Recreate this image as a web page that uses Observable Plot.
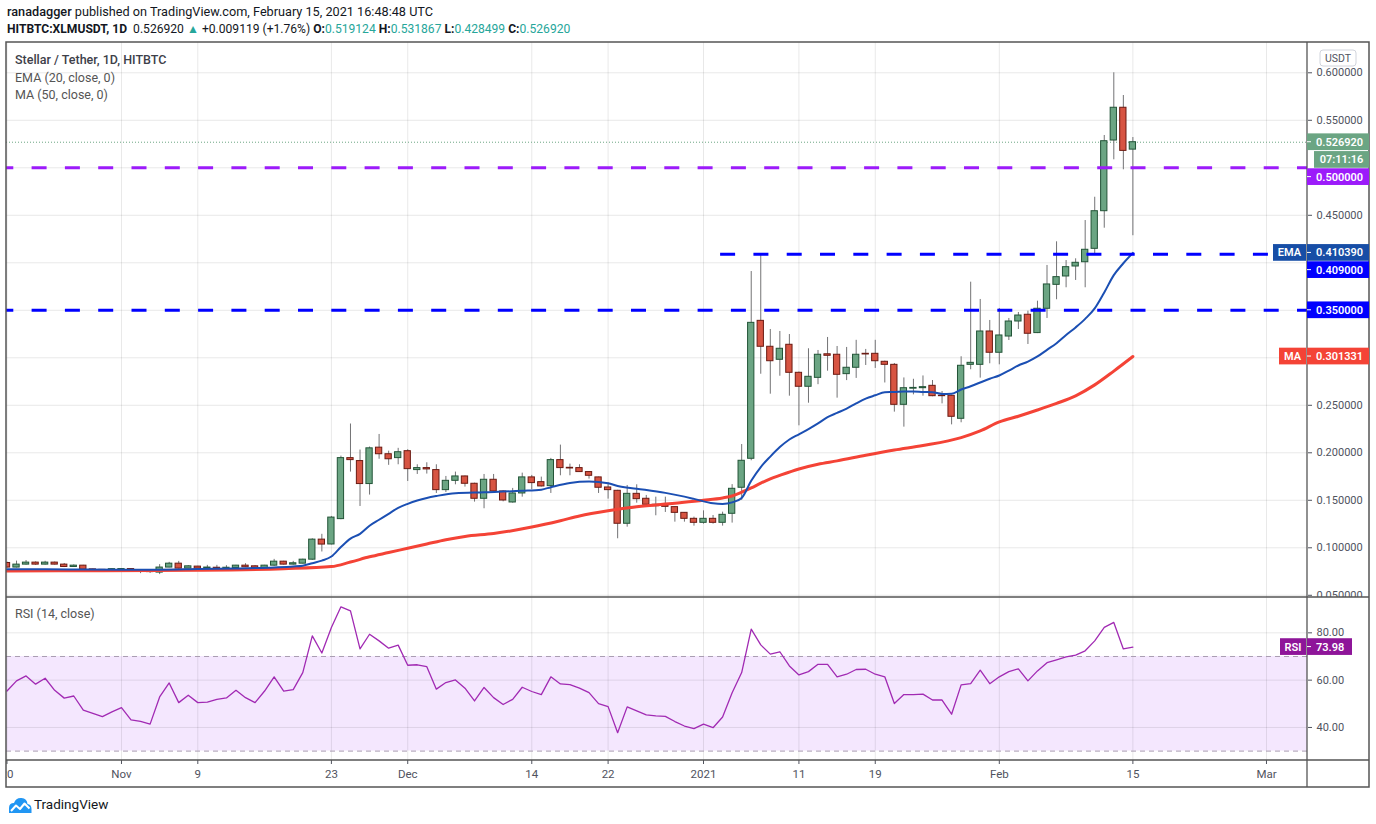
<!DOCTYPE html>
<html><head><meta charset="utf-8">
<script src="https://cdn.jsdelivr.net/npm/d3@7"></script>
<script src="https://cdn.jsdelivr.net/npm/@observablehq/plot@0.6"></script>
<style>
html,body{margin:0;padding:0;background:#fff;}
body{width:1376px;height:824px;position:relative;overflow:hidden;font-family:Roboto,"Noto Sans",sans-serif;color:#131722;}
.abs{position:absolute;white-space:nowrap;}
.v{color:#26a69a;}
</style></head><body>
<div id="root"></div>
<script>
// ---------- data ----------
const open = [
.0840,.0792,.0823,.0844,.0823,.0844,.0823,.0798,.0812,.0773,
.0768,.0765,.0770,.0776,.0757,.0750,.0739,.0792,.0833,.0781,
.0802,.0781,.0790,.0788,.0788,.0812,.0805,.0788,.0812,.0854,
.0823,.0833,.0875,.1086,.1035,.1302,.1944,.1913,.1671,.2054,
.1985,.1944,.2017,.1818,.1839,.1818,.1607,.1705,.1751,.1674,
.1516,.1716,.1593,.1477,.1572,.1741,.1691,.1649,.1923,.1842,
.1839,.1797,.1741,.1635,.1600,.1253,.1568,.1516,.1453,.1446,
.1428,.1368,.1305,.1263,.1305,.1263,.1358,.1632,.1937,.3389,
.3116,.2979,.3137,.2842,.2695,.2789,.3037,.3032,.2828,.2895,
.3042,.3042,.2958,.2926,.2505,.2675,.2680,.2705,.2601,.2600,
.2358,.2926,.2926,.3277,.3053,.3224,.3382,.3453,.3260,.3516,
.3768,.3856,.3961,.4006,.4147,.4543,.5287,.5632,.519124];
const close = [
.0792,.0823,.0844,.0823,.0844,.0823,.0798,.0812,.0770,.0765,
.0765,.0775,.0776,.0757,.0746,.0744,.0792,.0833,.0781,.0805,
.0781,.0792,.0788,.0790,.0812,.0795,.0788,.0812,.0854,.0823,
.0837,.0875,.1086,.1034,.1318,.1944,.1923,.1671,.2047,.1985,
.1932,.2006,.1828,.1839,.1825,.1607,.1705,.1751,.1674,.1516,
.1716,.1593,.1498,.1572,.1741,.1681,.1646,.1923,.1839,.1835,
.1797,.1758,.1632,.1607,.1253,.1568,.1512,.1453,.1438,.1431,
.1368,.1305,.1263,.1305,.1263,.1347,.1621,.1916,.3368,.3116,
.2964,.3095,.2842,.2695,.2800,.3032,.3021,.2821,.2895,.3032,
.3035,.2964,.2926,.2505,.2680,.2683,.2691,.2596,.2596,.2379,
.2916,.2947,.3277,.3053,.3235,.3382,.3445,.3253,.3516,.3772,
.3849,.3954,.4000,.4137,.4543,.5280,.5632,.5178,.52692];
const high = [
.0850,.0860,.0866,.0852,.0858,.0850,.0835,.0820,.0815,.0776,
.0770,.0780,.0780,.0779,.0760,.0752,.0823,.0847,.0857,.0812,
.0805,.0815,.0815,.0812,.0815,.0833,.0812,.0815,.0878,.0858,
.0857,.0880,.1095,.1142,.1330,.1965,.2303,.2029,.2061,.2193,
.2017,.2047,.2033,.1874,.1895,.1874,.1751,.1797,.1755,.1680,
.1772,.1772,.1600,.1625,.1786,.1762,.1744,.1941,.2081,.1881,
.1874,.1800,.1744,.1684,.1605,.1656,.1663,.1551,.1533,.1533,
.1432,.1370,.1323,.1389,.1340,.1375,.1665,.2087,.3908,.4077,
.3298,.3277,.3245,.2850,.3095,.3077,.3214,.3119,.3109,.3184,
.3088,.3184,.2965,.2940,.2788,.2774,.2809,.2761,.2645,.2605,
.3011,.3796,.3614,.3393,.3519,.3414,.3477,.3491,.3596,.3972,
.4221,.4024,.4042,.4445,.4690,.5340,.6000,.5761,.531867];
const low = [
.0785,.0788,.0818,.0815,.0818,.0818,.0792,.0795,.0762,.0760,
.0748,.0762,.0766,.0745,.0728,.0730,.0718,.0790,.0775,.0778,
.0778,.0780,.0782,.0784,.0786,.0792,.0785,.0786,.0805,.0818,
.0818,.0830,.0868,.0956,.1030,.1295,.1797,.1435,.1555,.1932,
.1868,.1874,.1698,.1772,.1776,.1572,.1582,.1663,.1639,.1481,
.1411,.1583,.1484,.1470,.1533,.1611,.1640,.1572,.1758,.1758,
.1793,.1723,.1572,.1512,.1095,.1217,.1470,.1424,.1337,.1372,
.1270,.1270,.1228,.1249,.1249,.1228,.1260,.1500,.1916,.2827,
.2617,.2806,.2596,.2284,.2522,.2717,.2859,.2575,.2760,.2783,
.2919,.2888,.2735,.2428,.2270,.2610,.2596,.2590,.2515,.2294,
.2316,.2874,.2786,.2937,.2926,.3182,.3298,.3140,.3255,.3414,
.3611,.3737,.3814,.3737,.4084,.4364,.5084,.4979,.428499];

const emaDay = [0,4,8,12,16,20,24,28,30,31,32,33,34,35,36,37,38,39,40,41,42,43,44,45,47,50,54,56,57,59,61,63,64,66,69,72,74,75,76,77,
78,79,80,81,82,83,84,85,86,87,88,89,90,91,92,93,94,95,96,97,98,99,100,101,102,103,104,105,106,107,108,109,110,111,112,113,114,115,116,117,118];
const emaValue = [.0775,.0774,.0772,.0770,.0770,.0776,.0782,.0793,.0803,.0812,
.0838,.0865,.0908,.1008,.1097,.1147,.1232,.1295,.1358,.1420,.1463,.1498,.1525,.1545,
.1575,.1585,.1600,.1612,.1638,.1683,.1697,.1680,.1650,.1622,
.1578,.1515,.1468,.1462,.1478,.1525,
.1705,.1850,.1960,.2060,.2140,.2195,.2250,.2310,.2375,.2420,
.2465,.2520,.2570,.2605,.2638,.2640,.2645,.2645,.2640,.2638,
.2620,.2622,.2666,.2700,.2740,.2780,.2814,.2865,.2919,.2960,
.3014,.3084,.3154,.3240,.3320,.3410,.3520,.3688,.3870,.3995,.41039];

const maDay = [0,10,20,29,34,36,38,40,42,44,46,48,51,55,58,60,63,66,70,73,75,76,77,78,79,80,81,83,85,87,90,93,96,100,102,104,106,108,110,112,114,116,118];
const maValue = [.0756,.0759,.0764,.0780,.0802,.0850,.0905,.0950,.0995,.1040,
.1085,.1120,.1150,.1218,.1285,.1335,.1390,.1433,.1470,.1500,
.1525,.1545,.1585,.1630,.1680,.1725,.1762,.1830,.1880,.1915,
.1975,.2030,.2077,.2160,.2230,.2325,.2385,.2450,.2520,.2600,
.2715,.2860,.301331];

const rsi = [55.4,59.7,61.8,58.3,60.8,55.7,52.4,53.3,47.3,46.0,
44.6,46.6,48.4,43.2,42.6,41.4,52.9,58.8,50.5,53.6,
50.5,50.7,51.9,52.5,55.7,52.6,50.5,55.4,61.4,55.4,
56.0,63.2,78.7,71.5,82.3,91.0,89.3,73.2,79.4,76.6,
73.5,74.8,66.3,66.5,65.7,56.2,59.0,60.1,56.6,51.2,
56.9,52.6,49.7,51.9,57.0,55.2,53.9,61.4,58.4,58.1,
56.6,54.7,50.1,48.8,37.8,48.7,47.0,45.3,44.9,44.7,
42.5,40.6,39.5,41.4,39.9,44.4,54.7,63.2,81.6,74.9,
71.0,72.0,66.0,62.2,63.6,66.7,66.7,61.4,62.5,64.5,
64.6,62.5,61.4,50.1,53.9,53.9,54.1,51.6,51.6,45.6,
58.0,58.5,64.2,58.5,61.4,63.6,64.8,59.7,63.9,67.4,
68.6,69.8,70.6,72.4,76.6,82.3,84.4,73.2,73.98];

const tickDates = ["2020-10-20","2020-11-01","2020-11-09","2020-11-23","2020-12-01","2020-12-14","2020-12-22","2021-01-01","2021-01-11","2021-01-19","2021-02-01","2021-02-15","2021-03-01"];
const tickLabels = ["20","Nov","9","23","Dec","14","22","2021","11","19","Feb","15","Mar"];
const priceTicks = [0.05,0.1,0.15,0.2,0.25,0.3,0.35,0.4,0.45,0.5,0.55,0.6];
const priceTickLabels = [0.05,0.1,0.15,0.2,0.25,0.45,0.55,0.6]; // the others sit under the value boxes
const rsiTicks = [40,60,80];
const rsiBand = [30,70];
const purpleLevel = 0.5;
const blueLevels = [0.35];
const blueShortLevel = 0.409;
const blueShortStart = "2021-01-02T19:00:00Z";

// ---------- derived tables ----------
const dayDate = i => new Date(Date.UTC(2020, 9, 20 + i));
const candles = open.map((o, i) => ({date: dayDate(i), o, h: high[i], l: low[i], c: close[i], up: close[i] >= o}));
const emaData = emaDay.map((d, i) => ({date: dayDate(d), v: emaValue[i]}));
const maData = maDay.map((d, i) => ({date: dayDate(d), v: maValue[i]}));
const rsiData = rsi.map((v, i) => ({date: dayDate(i), v}));
const tickD = tickDates.map(s => new Date(s + "T00:00:00Z"));
const labelMap = new Map(tickD.map((d, i) => [+d, tickLabels[i]]));
const lastClose = close[close.length - 1];
const emaLast = emaValue[emaValue.length - 1];
const maLast = maValue[maValue.length - 1];
const rsiLast = rsi[rsi.length - 1];

// ---------- layout ----------
const FL = 6, FT = 42, FR = 1369, AX = 1307, SPLIT = 597, TTOP = 760, FB = 787;
const W = FR - FL, MR = FR - AX;
const xDomain = [new Date(Date.UTC(2020, 9, 19, 22, 48)), new Date(Date.UTC(2021, 2, 5, 7, 12))];
const half = 0.33 * 864e5;
const UPF = "#6ba583", UPS = "#225437", DNF = "#d75442", DNS = "#6b1a12";
const dash = {strokeWidth: 3, strokeDasharray: "15,18.3", strokeDashoffset: 7.7};

const root = document.getElementById("root");
function place(el, left, top) {
  const d = document.createElement("div");
  d.className = "abs"; d.style.left = left + "px"; d.style.top = top + "px";
  d.style.overflow = "hidden";
  d.appendChild(el); root.appendChild(d); return d;
}
const baseStyle = {fontFamily: "Roboto, sans-serif", fontSize: "11px", color: "#50535e", background: "white"};

const mainPlot = Plot.plot({
  width: W, height: SPLIT - FT, marginLeft: 0, marginRight: MR, marginTop: 0, marginBottom: 0,
  style: baseStyle,
  x: {type: "utc", domain: xDomain, axis: null},
  y: {domain: [0.04768, 0.63189], axis: null},
  marks: [
    Plot.ruleX(tickD, {stroke: "#000", strokeOpacity: 0.09}),
    Plot.ruleY(priceTicks, {stroke: "#000", strokeOpacity: 0.09}),
    Plot.axisY({anchor: "right", ticks: priceTickLabels, tickFormat: d => d.toFixed(6), tickSize: 4, tickPadding: 5, fontSize: 11, label: null}),
    Plot.ruleY([lastClose], {stroke: UPF, strokeDasharray: "1,2"}),
    Plot.ruleX(candles, {x: "date", y1: "l", y2: "h", stroke: "#737375"}),
    Plot.rect(candles, {filter: d => d.up, x1: d => new Date(+d.date - half), x2: d => new Date(+d.date + half),
      y1: d => Math.min(d.o, d.c), y2: d => Math.max(d.o, d.c), fill: UPF, stroke: UPS, strokeWidth: 1}),
    Plot.rect(candles, {filter: d => !d.up, x1: d => new Date(+d.date - half), x2: d => new Date(+d.date + half),
      y1: d => Math.min(d.o, d.c), y2: d => Math.max(d.o, d.c), fill: DNF, stroke: DNS, strokeWidth: 1}),
    Plot.line(maData, {x: "date", y: "v", stroke: "#f44336", strokeWidth: 3, curve: "monotone-x"}),
    Plot.line(emaData, {x: "date", y: "v", stroke: "#1b4fb3", strokeWidth: 2, curve: "monotone-x"}),
    Plot.ruleY([purpleLevel], {stroke: "#9c1bfa", ...dash}),
    Plot.ruleY(blueLevels, {stroke: "#0000ff", ...dash}),
    Plot.ruleY([blueShortLevel], {x1: () => new Date(blueShortStart), x2: () => xDomain[1], stroke: "#0000ff", strokeWidth: 3, strokeDasharray: "15,18.3"})
  ]
});
place(mainPlot, FL, FT);

const rsiPlot = Plot.plot({
  width: W, height: FB - SPLIT, marginLeft: 0, marginRight: MR, marginTop: 0, marginBottom: FB - TTOP,
  style: baseStyle,
  x: {type: "utc", domain: xDomain, axis: null},
  y: {domain: [26.03, 94.94], axis: null},
  marks: [
    Plot.rect([rsiBand], {y1: d => d[0], y2: d => d[1], fill: "#f4e7fe"}),
    Plot.ruleX(tickD, {stroke: "#000", strokeOpacity: 0.09}),
    Plot.ruleY(rsiTicks, {stroke: "#000", strokeOpacity: 0.09}),
    Plot.ruleY(rsiBand, {stroke: "#a99db2", strokeDasharray: "5,4"}),
    Plot.line(rsiData, {x: "date", y: "v", stroke: "#a12ab3", strokeWidth: 1.3}),
    Plot.axisY({anchor: "right", ticks: rsiTicks, tickFormat: d => d.toFixed(2), tickSize: 4, tickPadding: 5, fontSize: 11, label: null}),
    Plot.axisX({ticks: tickD, tickFormat: d => labelMap.get(+d), tickSize: 4, tickPadding: 5, fontSize: 11.5, label: null})
  ]
});
place(rsiPlot, FL, SPLIT);

// ---------- texts ----------
function html(left, top, s, style) {
  const d = document.createElement("div");
  d.className = "abs"; d.style.left = left + "px"; d.style.top = top + "px";
  d.style.cssText += style || ""; d.innerHTML = s; root.appendChild(d); return d;
}
html(7, 4, '<span style="font-weight:500">ranadagger</span> published on TradingView.com, February 15, 2021 16:48:48 UTC', "font-size:12.7px;");
html(7, 22, '<b>HITBTC:XLMUSDT, 1D</b>&nbsp; 0.526920 <span class="v">▲</span> +0.009119 (+1.76%) <b>O:</b><span class="v">0.519124</span> <b>H:</b><span class="v">0.531867</span> <b>L:</b><span class="v">0.428499</span> <b>C:</b><span class="v">0.526920</span>', "font-size:12.1px;");
html(15, 52, "Stellar / Tether, 1D, HITBTC", "font-size:12.5px;color:#3d4049;font-weight:500;");
html(15, 70, "EMA (20, close, 0)", "font-size:12.5px;color:#555;");
html(15, 87, "MA (50, close, 0)", "font-size:12.5px;color:#555;");
html(15, 606, "RSI (14, close)", "font-size:12.5px;color:#555;");
html(8, 796, '<svg width="24" height="18" viewBox="0 0 24 18"><path d="M1 17 L1 12 Q1 7 6 7 Q8 1.5 13.5 2 Q19 2.5 19.5 8 Q23.5 8.5 23.5 13 L23.5 17 Z" fill="#2196f3"/><polyline points="3,15 8,9.5 12,13 16.5,7.5 21.5,12.5" stroke="#fff" stroke-width="2" fill="none" stroke-linejoin="round"/></svg>', "");
html(34, 796, "TradingView", "font-size:13.5px;color:#131722;");

// ---------- overlay: frame and price labels ----------
const ov = d3.select(root).append("svg").attr("width", 1376).attr("height", 824)
  .style("position", "absolute").style("left", "0px").style("top", "0px").style("pointer-events", "none");
const frameC = "#555";
ov.append("rect").attr("x", FL).attr("y", FT).attr("width", FR - FL).attr("height", FB - FT).attr("fill", "none").attr("stroke", frameC).attr("stroke-width", 1.5);
[[FL, SPLIT, FR, SPLIT], [FL, TTOP, FR, TTOP], [AX, FT, AX, FB]].forEach(([x1, y1, x2, y2]) =>
  ov.append("line").attr("x1", x1).attr("y1", y1).attr("x2", x2).attr("y2", y2).attr("stroke", frameC).attr("stroke-width", 1.3));

// USDT badge
ov.append("rect").attr("x", 1320).attr("y", 50).attr("width", 36).attr("height", 16).attr("rx", 3).attr("fill", "#fff").attr("stroke", "#d1d4dc");
ov.append("text").attr("x", 1338).attr("y", 58).attr("text-anchor", "middle").attr("dominant-baseline", "central")
  .attr("font-size", 10.5).attr("font-family", "Roboto, sans-serif").attr("fill", "#50535e").text("USDT");

const ys = mainPlot.scale("y"), yr = rsiPlot.scale("y");
const BH = 16.7;
function box(yTop, x0, w, fill, text, tick) {
  ov.append("rect").attr("x", x0).attr("y", yTop).attr("width", w).attr("height", BH).attr("fill", fill);
  if (tick) ov.append("line").attr("x1", AX).attr("x2", AX + 4).attr("y1", yTop + BH / 2).attr("y2", yTop + BH / 2).attr("stroke", "#fff");
  ov.append("text").attr("x", tick ? AX + 9 : x0 + w / 2).attr("y", yTop + BH / 2 + 0.5)
    .attr("text-anchor", tick ? "start" : "middle").attr("dominant-baseline", "central")
    .attr("font-size", 11).attr("font-weight", 600).attr("font-family", "Roboto, sans-serif").attr("fill", "#fff").text(text);
}
const priceLabels = [
  {v: lastClose, fill: UPF, extra: "07:11:16"},
  {v: purpleLevel, fill: "#9c1bfa"},
  {v: emaLast, fill: "#174ea6", tag: "EMA", tw: 34},
  {v: blueShortLevel, fill: "#0000ff"},
  {v: blueLevels[0], fill: "#0000ff"},
  {v: maLast, fill: "#f44336", tag: "MA", tw: 28}
].map(d => ({...d, y: FT + ys.apply(d.v)})).sort((a, b) => a.y - b.y);
let prevBottom = -1e9;
for (const d of priceLabels) {
  let top = Math.max(d.y - BH / 2, prevBottom + 0.5);
  box(top, AX, FR - AX, d.fill, d.v.toFixed(6), true);
  if (d.tag) box(top, AX - d.tw, d.tw - 1, d.fill, d.tag, false);
  prevBottom = top + BH;
  if (d.extra) { box(prevBottom + 1, AX + 7, FR - AX - 7, d.fill, d.extra, false); prevBottom += BH + 1; }
}
const rY = SPLIT + yr.apply(rsiLast) - BH / 2;
box(rY, AX, 45, "#8e1599", rsiLast.toFixed(2), true);
box(rY, AX - 27, 26, "#8e1599", "RSI", false);
</script>
</body></html>
